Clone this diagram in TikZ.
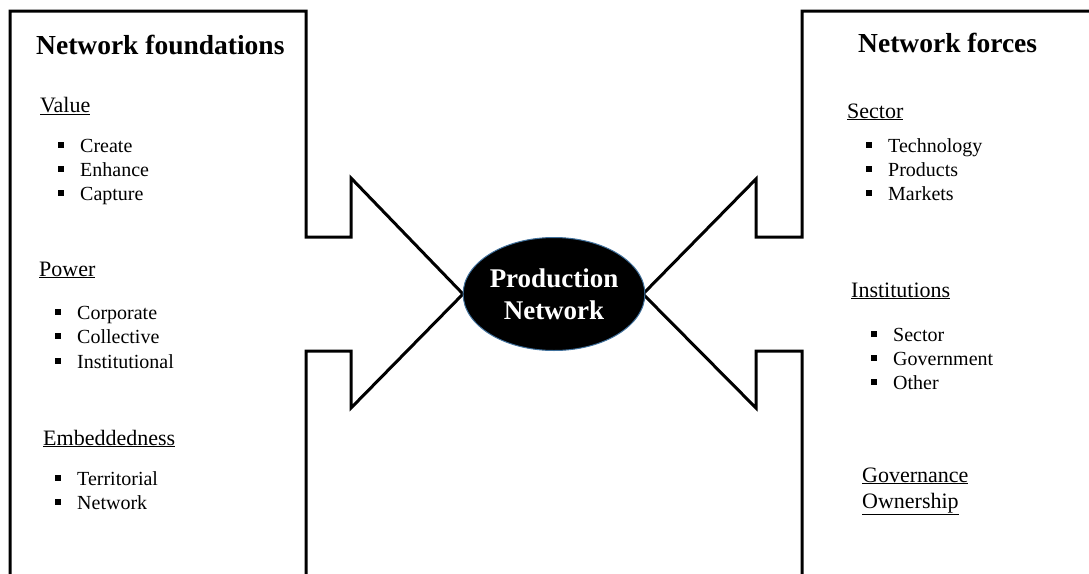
\documentclass[tikz,border=0pt]{standalone}
\usepackage{fontspec}
\setmainfont{Liberation Serif}
\usetikzlibrary{shapes.geometric}
\definecolor{rim}{HTML}{41719C}
\newcommand{\bul}{\makebox[22pt][l]{\rule[0.22em]{0.27em}{0.27em}}}
\tikzset{
  frame/.style={line width=3pt, line join=miter, draw=black},
  title/.style={anchor=base west, inner sep=0pt, font=\fontsize{27.5}{30}\selectfont\bfseries},
  head/.style={anchor=base west, inner sep=0pt, font=\fontsize{22}{26}\selectfont},
  item/.style={anchor=base west, inner sep=0pt, font=\fontsize{20}{24}\selectfont},
}
\begin{document}
\begin{tikzpicture}[x=1pt,y=-1pt]
\useasboundingbox (0,0) rectangle (1089,573);
% left shape
\draw[frame] (10,575) -- (10,11) -- (306,11) -- (306,237) -- (351,237) -- (351,178)
  -- (463,294) -- (351,408) -- (351,351) -- (306,351) -- (306,575);
% right shape
\draw[frame] (1092,11) -- (802,11) -- (802,237) -- (756,237) -- (756,179)
  -- (643,294) -- (756,408) -- (756,351) -- (802,351) -- (802,575);
% centre
\node[ellipse, fill=black, draw=rim, line width=1pt, minimum width=178pt, minimum height=113pt,
  inner sep=0pt, align=center, text=white, font=\fontsize{27}{32}\selectfont\bfseries]
  (pn) at (554,294) {Production\\Network};
% left texts
\node[title] (lt) at (36,54) {Network foundations};
\node[head] (lv) at (40,112) {\underline{Value}};
\node[item] (l1) at (58,152) {\bul Create};
\node[item] (l2) at (58,176) {\bul Enhance};
\node[item] (l3) at (58,200) {\bul Capture};
\node[head] (lp) at (39,276) {\underline{Power}};
\node[item] (l4) at (55,319) {\bul Corporate};
\node[item] (l5) at (55,343) {\bul Collective};
\node[item] (l6) at (55,368) {\bul Institutional};
\node[head] (le) at (43,445) {\underline{Embeddedness}};
\node[item] (l7) at (55,485) {\bul Territorial};
\node[item] (l8) at (55,509) {\bul Network};
% right texts
\node[title] (rt) at (858,52) {Network forces};
\node[head] (rs) at (847,118) {\underline{Sector}};
\node[item] (r1) at (866,152) {\bul Technology};
\node[item] (r2) at (866,176) {\bul Products};
\node[item] (r3) at (866,200) {\bul Markets};
\node[head] (ri) at (851,297) {\underline{Institutions}};
\node[item] (r4) at (871,341) {\bul Sector};
\node[item] (r5) at (871,365) {\bul Government};
\node[item] (r6) at (871,389) {\bul Other};
\node[head] (rg) at (862,482) {\underline{Governance}};
\node[head] (ro) at (862,508) {\underline{Ownership}};
\end{tikzpicture}
\end{document}
